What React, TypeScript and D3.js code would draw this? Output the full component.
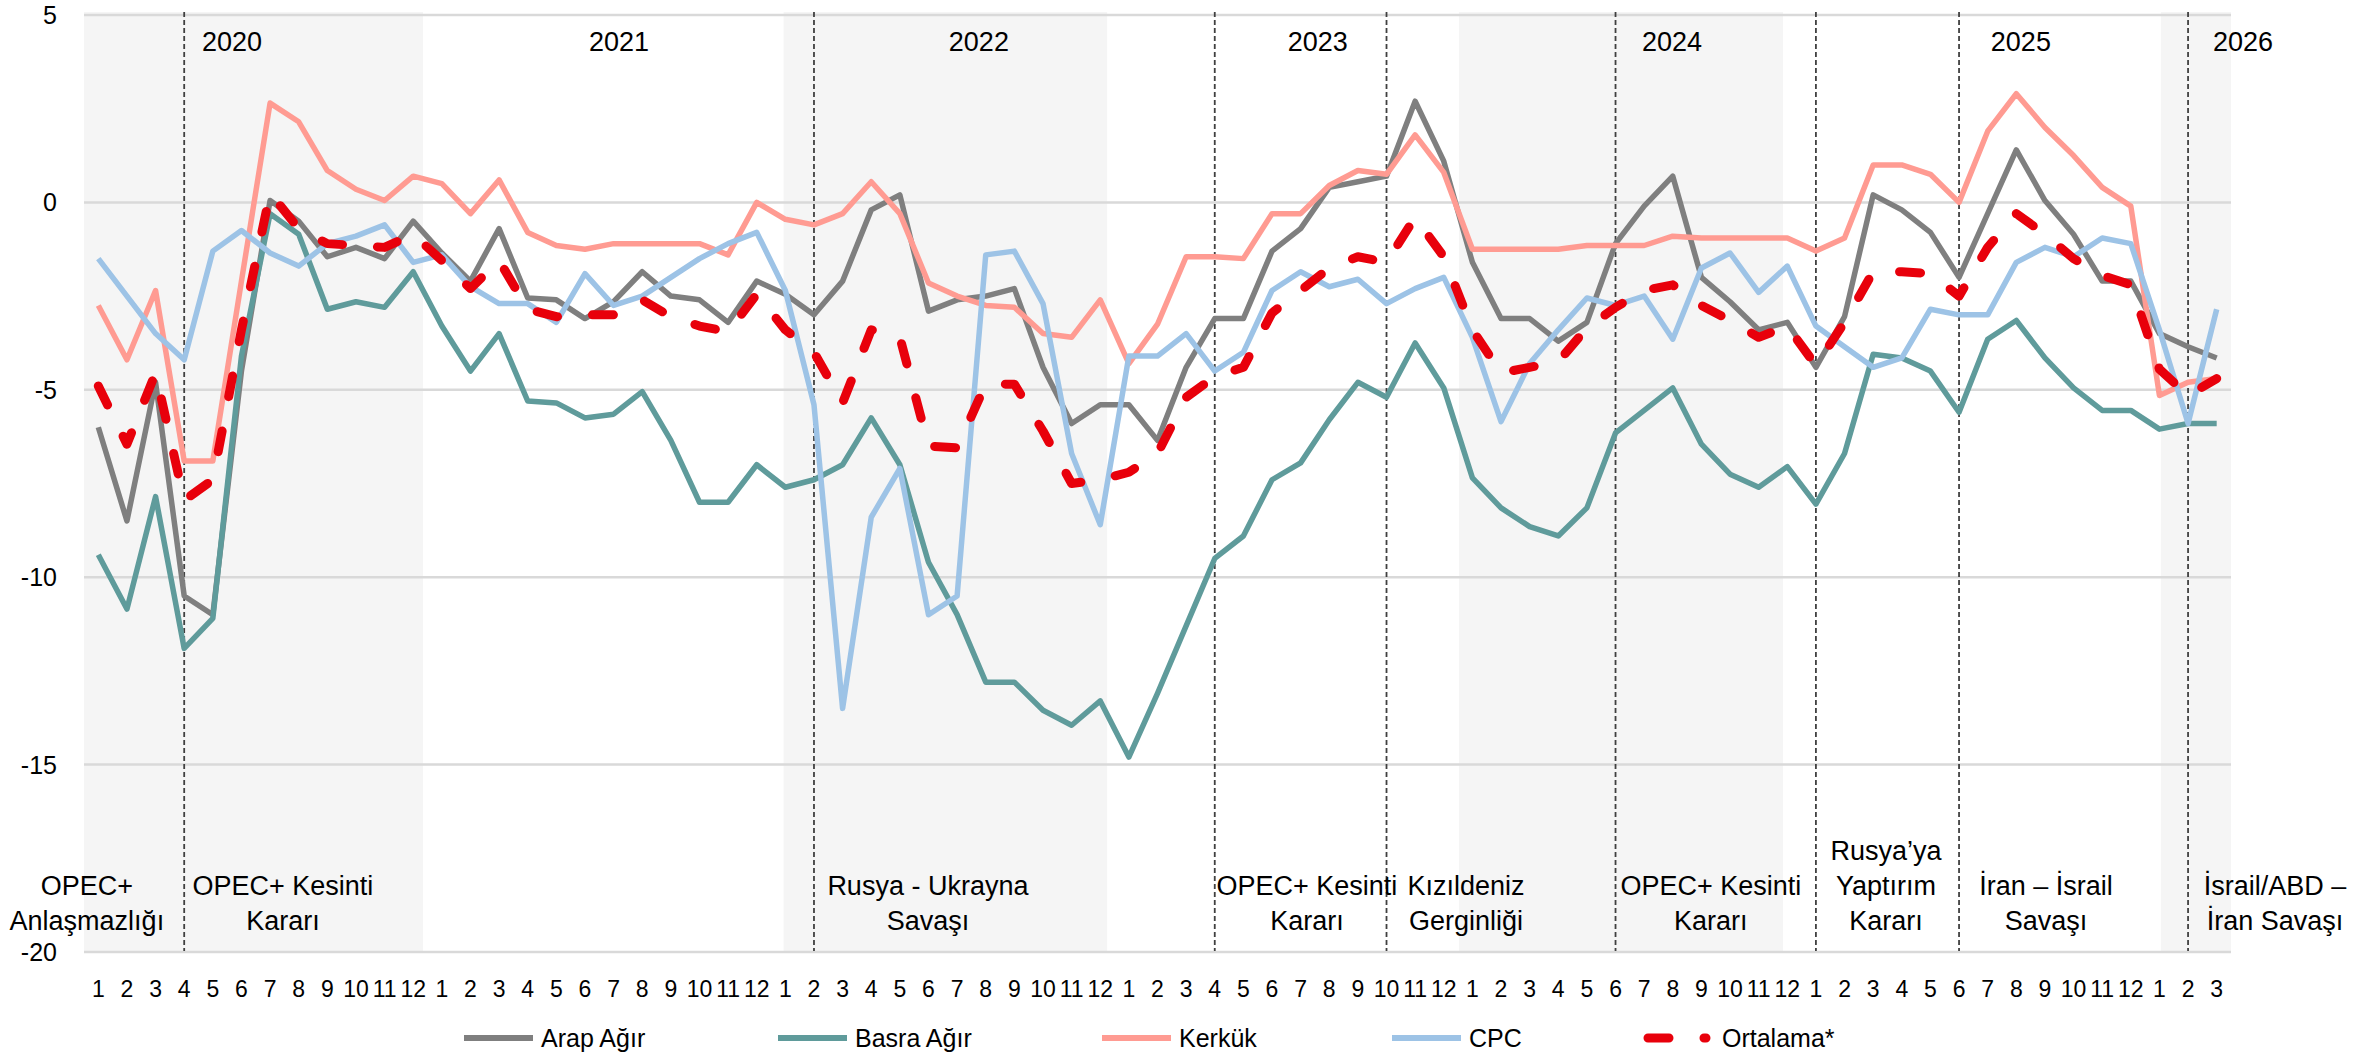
import React from 'react';
import * as d3 from 'd3';

// month index 0 = Jan 2020 ... 74 = Mar 2026
const monthLabels = [
  '1', '2', '3', '4', '5', '6', '7', '8', '9', '10', '11', '12',
  '1', '2', '3', '4', '5', '6', '7', '8', '9', '10', '11', '12',
  '1', '2', '3', '4', '5', '6', '7', '8', '9', '10', '11', '12',
  '1', '2', '3', '4', '5', '6', '7', '8', '9', '10', '11', '12',
  '1', '2', '3', '4', '5', '6', '7', '8', '9', '10', '11', '12',
  '1', '2', '3', '4', '5', '6', '7', '8', '9', '10', '11', '12',
  '1', '2', '3',
];

const arapAgir = [
  -6.0, -8.5, -4.8, -10.5, -11.0, -4.5, 0.05, -0.5, -1.45, -1.2, -1.5, -0.5,
  -1.35, -2.1, -0.7, -2.55, -2.6, -3.1, -2.65, -1.85, -2.5, -2.6, -3.2, -2.1,
  -2.45, -3.0, -2.1, -0.2, 0.2, -2.9, -2.6, -2.5, -2.3, -4.4, -5.9, -5.4,
  -5.4, -6.35, -4.4, -3.1, -3.1, -1.3, -0.7, 0.4, 0.55, 0.7, 2.7, 1.1,
  -1.6, -3.1, -3.1, -3.7, -3.2, -1.1, -0.1, 0.7, -2.0, -2.65, -3.4, -3.2,
  -4.4, -3.05, 0.2, -0.2, -0.8, -2.0, -0.3, 1.4, 0.05, -0.85, -2.1, -2.1,
  -3.5, -3.85, -4.15,
];

const basraAgir = [
  -9.4, -10.85, -7.85, -11.9, -11.1, -4.1, -0.3, -0.85, -2.85, -2.65, -2.8, -1.85,
  -3.3, -4.5, -3.5, -5.3, -5.35, -5.75, -5.65, -5.05, -6.35, -8.0, -8.0, -7.0,
  -7.6, -7.4, -7.0, -5.75, -7.0, -9.6, -11.0, -12.8, -12.8, -13.55, -13.95, -13.3,
  -14.8, -13.1, -11.3, -9.5, -8.9, -7.4, -6.95, -5.8, -4.8, -5.2, -3.75, -4.95,
  -7.35, -8.15, -8.65, -8.9, -8.15, -6.15, -5.55, -4.95, -6.45, -7.25, -7.6, -7.05,
  -8.05, -6.7, -4.05, -4.15, -4.5, -5.6, -3.65, -3.15, -4.15, -4.95, -5.55, -5.55,
  -6.05, -5.9, -5.9,
];

const kerkuk = [
  -2.75, -4.2, -2.35, -6.9, -6.9, -2.1, 2.65, 2.15, 0.85, 0.35, 0.05, 0.7,
  0.5, -0.3, 0.6, -0.8, -1.15, -1.25, -1.1, -1.1, -1.1, -1.1, -1.4, 0.0,
  -0.45, -0.6, -0.3, 0.55, -0.3, -2.15, -2.5, -2.75, -2.8, -3.5, -3.6, -2.6,
  -4.3, -3.25, -1.45, -1.45, -1.5, -0.3, -0.3, 0.45, 0.85, 0.75, 1.8, 0.8,
  -1.25, -1.25, -1.25, -1.25, -1.15, -1.15, -1.15, -0.9, -0.95, -0.95, -0.95, -0.95,
  -1.3, -0.95, 1.0, 1.0, 0.75, 0.0, 1.9, 2.9, 2.0, 1.25, 0.4, -0.1,
  -5.15, -4.8, -4.7,
];

const cpc = [
  -1.5, -2.5, -3.5, -4.2, -1.3, -0.75, -1.35, -1.7, -1.1, -0.9, -0.6, -1.6,
  -1.4, -2.25, -2.7, -2.7, -3.2, -1.9, -2.75, -2.5, -2.0, -1.5, -1.1, -0.8,
  -2.35, -5.4, -13.5, -8.4, -7.1, -11.0, -10.5, -1.4, -1.3, -2.7, -6.7, -8.6,
  -4.1, -4.1, -3.5, -4.5, -4.0, -2.35, -1.85, -2.25, -2.05, -2.7, -2.3, -2.0,
  -3.6, -5.85, -4.3, -3.4, -2.55, -2.75, -2.5, -3.65, -1.75, -1.35, -2.4, -1.7,
  -3.3, -3.85, -4.4, -4.15, -2.85, -3.0, -3.0, -1.6, -1.2, -1.45, -0.95, -1.1,
  -3.4, -5.9, -2.85,
];

const ortalama = [
  -4.9, -6.45, -4.55, -7.95, -7.4, -3.4, 0.25, -0.7, -1.1, -1.15, -1.2, -0.85,
  -1.55, -2.3, -1.55, -2.85, -3.05, -3.0, -3.0, -2.6, -3.05, -3.3, -3.45, -2.45,
  -3.4, -4.0, -5.35, -3.4, -3.6, -6.5, -6.55, -4.85, -4.85, -6.1, -7.5, -7.4,
  -7.2, -6.7, -5.2, -4.65, -4.4, -2.95, -2.35, -1.75, -1.45, -1.6, -0.4, -1.45,
  -3.4, -4.55, -4.4, -4.25, -3.35, -2.8, -2.35, -2.2, -2.75, -3.15, -3.6, -3.3,
  -4.35, -3.2, -1.85, -1.85, -1.9, -2.5, -1.2, -0.3, -0.85, -1.5, -1.95, -2.2,
  -4.45, -5.15, -4.7,
];

const seriesNames = ['Arap Ağır', 'Basra Ağır', 'Kerkük', 'CPC', 'Ortalama*'];
const seriesValues = [arapAgir, basraAgir, kerkuk, cpc, ortalama];
const seriesColors = ['#7f7f7f', '#5f9b9b', '#ff9b92', '#9dc3e6', '#e8000b'];

const yTicks = [5, 0, -5, -10, -15, -20];

// year captions and where they sit (month index)
const yearLabels = ['2020', '2021', '2022', '2023', '2024', '2025', '2026'];
const yearAt = [4.67, 18.19, 30.76, 42.6, 54.97, 67.16, 74.92];

// shaded periods, in month index units
const shadedFrom = [-0.5, 23.94, 47.53, 72.05];
const shadedTo = [11.34, 35.24, 58.85, 74.5];

// event marker lines (month index)
const eventMonths = [3, 25, 39, 45, 53, 60, 65, 73];

const eventTexts = [
  ['OPEC+', 'Anlaşmazlığı'],
  ['OPEC+ Kesinti', 'Kararı'],
  ['Rusya - Ukrayna', 'Savaşı'],
  ['OPEC+ Kesinti', 'Kararı'],
  ['Kızıldeniz', 'Gerginliği'],
  ['OPEC+ Kesinti', 'Kararı'],
  ['Rusya’ya', 'Yaptırım', 'Kararı'],
  ['İran – İsrail', 'Savaşı'],
  ['İsrail/ABD –', 'İran Savaşı'],
];
const eventTextAt = [-0.4, 6.45, 28.98, 42.22, 47.78, 56.33, 62.45, 68.04, 76.04];

const W = 2379;
const H = 1054;
const FONT = "'Liberation Sans Narrow', 'Arial Narrow', 'Liberation Sans', sans-serif";

const App = () => {
  const x = d3.scaleLinear().domain([-0.5, 74.5]).range([84, 2231]);
  const y = d3.scaleLinear().domain([-20, 5]).range([952, 15]);

  const line = d3.line<number>()
    .x((_, i) => x(i))
    .y(d => y(d));

  const legendX = [464, 778, 1102, 1392, 1648];
  const legendY = 1038;

  return (
    <svg width={W} height={H} style={{position: 'absolute', left: 0, top: 0, background: '#fff'}}
         fontFamily={FONT}>
      {/* shaded periods */}
      {shadedFrom.map((s, i) => (
        <rect key={'sh' + i} x={x(s)} y={12} width={x(shadedTo[i]) - x(s)} height={939} fill="#f5f5f5"/>
      ))}

      {/* gridlines */}
      {yTicks.map(t => (
        <line key={'g' + t} x1={x(-0.5)} x2={x(74.5)} y1={y(t)} y2={y(t)} stroke="#d9d9d9" strokeWidth={2.5}/>
      ))}

      {/* y tick labels */}
      {yTicks.map(t => (
        <text key={'yt' + t} x={57} y={y(t)} dy="0.36em" textAnchor="end" fontSize={25} fill="#000">{t}</text>
      ))}

      {/* x tick labels */}
      {monthLabels.map((m, i) => (
        <text key={'xt' + i} x={x(i)} y={989} dy="0.36em" textAnchor="middle" fontSize={23} fill="#000">{m}</text>
      ))}

      {/* event marker lines */}
      {eventMonths.map(m => (
        <line key={'ev' + m} x1={x(m)} x2={x(m)} y1={12} y2={951} stroke="#404040" strokeWidth={1.8}
              strokeDasharray="5 3"/>
      ))}

      {/* year captions */}
      {yearLabels.map((yr, i) => (
        <text key={'yr' + yr} x={x(yearAt[i])} y={41} dy="0.36em" textAnchor="middle" fontSize={27} fill="#000">{yr}</text>
      ))}

      {/* event captions */}
      {eventTexts.map((lines, i) => (
        <text key={'et' + i} textAnchor="middle" fontSize={27} fill="#000">
          {lines.map((ln, j) => (
            <tspan key={j} x={x(eventTextAt[i])} y={920 - (lines.length - 1 - j) * 35} dy="0.36em">{ln}</tspan>
          ))}
        </text>
      ))}

      {/* series */}
      {seriesValues.map((vals, k) => (
        <path key={'s' + k} d={line(vals) || ''} fill="none" stroke={seriesColors[k]}
              strokeWidth={k === 4 ? 9 : 5.5} strokeLinejoin="round"
              strokeLinecap={k === 4 ? 'round' : 'butt'}
              strokeDasharray={k === 4 ? '21 35' : undefined}/>
      ))}

      {/* legend */}
      {seriesNames.map((name, k) => (
        <g key={'lg' + k}>
          <line x1={legendX[k]} x2={legendX[k] + (k === 4 ? 58 : 69)} y1={legendY} y2={legendY}
                stroke={seriesColors[k]} strokeWidth={k === 4 ? 9 : 6}
                strokeLinecap={k === 4 ? 'round' : 'butt'}
                strokeDasharray={k === 4 ? '21 35' : undefined}/>
          <text x={legendX[k] + (k === 4 ? 74 : 77)} y={legendY} dy="0.36em" fontSize={25} fill="#000">{name}</text>
        </g>
      ))}
    </svg>
  );
};

export default App;
